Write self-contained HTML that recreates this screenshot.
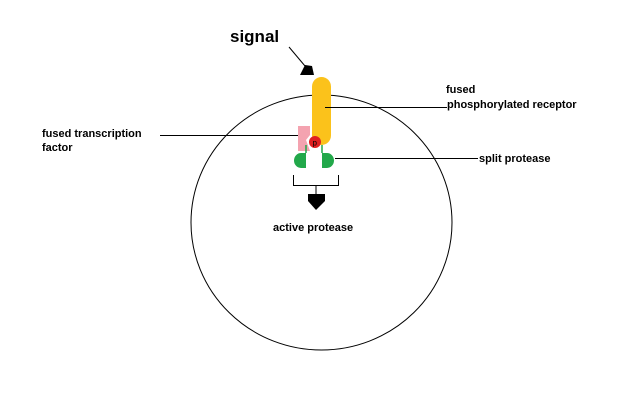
<!DOCTYPE html>
<html><head><style>body{margin:0;background:#fff}svg{display:block}text{font-family:"Liberation Sans",sans-serif;font-weight:bold;fill:#000}</style></head>
<body><svg width="640" height="400" viewBox="0 0 640 400">
<ellipse cx="321.5" cy="222.5" rx="130.5" ry="127.5" fill="none" stroke="#000" stroke-width="1"/>
<text x="230" y="42" font-size="17">signal</text>
<line x1="289" y1="47" x2="305" y2="66" stroke="#000" stroke-width="1"/>
<polygon points="300,75 305,65 312,66 314,75" fill="#000"/>
<rect x="312" y="77" width="19" height="68" rx="9.5" fill="#fbc21b"/>
<polygon points="298,126 310,126 310,135 306,140 310,151 298,151" fill="#f4a3b0"/>
<line x1="306" y1="145" x2="306" y2="153" stroke="#22a84a" stroke-width="1.5"/>
<line x1="322" y1="145" x2="322" y2="153" stroke="#22a84a" stroke-width="1.5"/>
<circle cx="315" cy="142" r="6" fill="#e02020"/>
<text x="312.5" y="145.5" font-size="8" style="font-weight:normal">p</text>
<path d="M306,153 L301,153 A7,7.5 0 0 0 301,168 L306,168 Z" fill="#22a84a"/>
<path d="M322,153 L327,153 A7,7.5 0 0 1 327,168 L322,168 Z" fill="#22a84a"/>
<polyline points="293.5,175 293.5,185.5 338.5,185.5 338.5,175" fill="none" stroke="#000"/>
<line x1="316" y1="185" x2="316" y2="194" stroke="#000"/>
<polygon points="308,194 325,194 325,201 316,210 308,201" fill="#000"/>
<line x1="325" y1="107.5" x2="447" y2="107.5" stroke="#000"/>
<text x="446" y="93" font-size="11">fused</text>
<text x="447" y="108" font-size="11">phosphorylated receptor</text>
<line x1="160" y1="135.5" x2="298" y2="135.5" stroke="#000"/>
<text x="42" y="137" font-size="11">fused transcription</text>
<text x="42" y="151" font-size="11">factor</text>
<line x1="335" y1="158.5" x2="478" y2="158.5" stroke="#000"/>
<text x="479" y="162" font-size="11">split protease</text>
<text x="273" y="231" font-size="11">active protease</text>
</svg></body></html>
